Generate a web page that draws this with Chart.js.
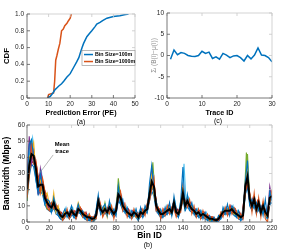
<!DOCTYPE html>
<html><head><meta charset="utf-8">
<script src="https://cdn.jsdelivr.net/npm/chart.js@4"></script>
<style>
html,body{margin:0;padding:0;background:#fff;width:299px;height:250px;overflow:hidden;}
canvas{position:absolute;}
.cap{position:absolute;font-family:'Liberation Sans',Arial,sans-serif;font-size:7px;color:#000;text-align:center;line-height:8px;width:30px;}
</style></head><body>
<canvas id="ca" width="150" height="125" style="left:0;top:0;width:150px;height:125px"></canvas>
<canvas id="cc" width="149" height="125" style="left:150px;top:0;width:149px;height:125px"></canvas>
<canvas id="cb" width="299" height="132" style="left:0;top:118px;width:299px;height:132px"></canvas>
<div class="cap" style="left:66px;top:118px">(a)</div>
<div class="cap" style="left:203px;top:117px">(c)</div>
<div class="cap" style="left:133px;top:241px">(b)</div>
<script>
// ---------- (a) CDF of prediction error ----------
const BLUE_PE  = [9.5, 10.8, 12, 13, 13.8, 14.6, 16, 17, 18.5, 19.3, 20, 21.5, 23, 24, 24.6, 25.5, 26.2, 27.7, 29, 30, 31.5, 32.3, 33.8, 35, 37, 40, 43, 45, 47];
const BLUE_CDF = [0, 0.02, 0.06, 0.1, 0.12, 0.14, 0.17, 0.2, 0.25, 0.27, 0.29, 0.36, 0.43, 0.48, 0.53, 0.6, 0.65, 0.73, 0.77, 0.8, 0.85, 0.88, 0.9, 0.92, 0.95, 0.97, 0.98, 0.99, 1.0];
const ORANGE_PE  = [9.5, 10, 12.3, 12.8, 13.3, 13.8, 14.5, 15.2, 16, 16.8, 17.5, 18.5, 19.2, 20, 20.5];
const ORANGE_CDF = [0, 0.04, 0.06, 0.2, 0.45, 0.5, 0.58, 0.65, 0.8, 0.82, 0.86, 0.89, 0.92, 0.95, 1.0];
const LEGEND_A = ['Bin Size=100m', 'Bin Size=1000m'];

// ---------- (c) per-trace deviation ----------
const TRACE_ID = [1,2,3,4,5,6,7,8,9,10,11,12,13,14,15,16,17,18,19,20,21,22,23,24,25,26,27,28,29,30];
const DEVIATION = [-0.9,1.3,0.2,0.7,0.5,0,-0.15,-0.25,0,1.0,0.5,0.8,-0.7,-0.3,-0.85,0.5,0.1,-0.5,-0.1,0,-0.5,-1.3,0,-0.8,0.1,1.8,0.1,0,-0.5,-1.5];

// ---------- (b) bandwidth traces ----------
const BINS_EVEN = [0,2,4,6,8,10,12,14,16,18,20,22,24,26,28,30,32,34,36,38,40,42,44,46,48,50,52,54,56,58,60,62,64,66,68,70,72,74,76,78,80,82,84,86,88,90,92,94,96,98,100,102,104,106,108,110,112,114,116,118,120,122,124,126,128,130,132,134,136,138,140,142,144,146,148,150,152,154,156,158,160,162,164,166,168,170,172,174,176,178,180,182,184,186,188,190,192,194,196,198,200,202,204,206,208,210,212,214,216,218,220];
const BINS_ODD = [1,3,5,7,9,11,13,15,17,19,21,23,25,27,29,31,33,35,37,39,41,43,45,47,49,51,53,55,57,59,61,63,65,67,69,71,73,75,77,79,81,83,85,87,89,91,93,95,97,99,101,103,105,107,109,111,113,115,117,119,121,123,125,127,129,131,133,135,137,139,141,143,145,147,149,151,153,155,157,159,161,163,165,167,169,171,173,175,177,179,181,183,185,187,189,191,193,195,197,199,201,203,205,207,209,211,213,215,217,219];
const MEAN = [20,35,42,41,33,22,23,23,15,12, 10,9,12,8,7,4,3,5,6,4, 7,5,4,8,7,5,4,3,3,2, 2,4,13,8,6,8,6,9,7,5, 7,17,15,10,8,6,5,4,6,5, 3,6,5,7,8,17,25,22,10,7, 5,5,6,7,8,6,12,6,5,9, 18,10,13,10,8,7,5,6,4,5, 4,3,2,2,1.5,1,2,4,6,7, 7,7,8,6,5,4,3,4,22,28, 14,10,14,8,12,6,10,6,4,15, 16];
// traces sampled on even bins
const E1 = [24,48,51,40,26,18,30,21,11,14, 13,6,15,9,4,2,5,8,3,6, 10,3,6,11,5,7,2,4,1,3, 1,7,17,5,9,11,4,13,5,8, 4,22,11,14,6,9,3,7,4,8, 1,9,3,10,6,24,35,19,13,5, 8,3,9,5,12,4,16,8,3,13, 34,7,17,8,12,5,8,3,7,2, 6,1,4,0.5,3,0,4,2,9,5, 11,4,10,8,3,7,1,6,25,38, 11,14,9,12,7,10,4,14,2,19, 13];
const E2 = [15,29,47,36,38,28,18,27,19,9, 7,12,8,11,5,6,1,3,8,2, 5,7,2,6,9,3,6,1,5,0.5, 3,2,10,11,3,6,8,5,10,2, 9,14,19,7,11,3,7,2,8,3, 5,3,8,4,11,13,20,27,7,9, 2,8,4,10,5,9,8,3,7,6, 15,13,9,14,5,10,3,8,2,7, 2,5,1,3,0.5,2,1,6,3,9, 4,10,5,9,7,2,5,2,19,24, 17,6,18,5,15,3,13,2,0,12, 20];
const E3 = [18,40,43,49,30,25,26,17,16,18, 11,8,18,6,10,3,2,7,4,5, 8,4,5,12,8,4,5,2,3,2, 1,3,15,9,5,9,3,11,9,4, 8,19,13,12,9,5,6,3,5,7, 2,7,6,9,7,20,29,17,11,6, 6,4,7,8,10,5,14,7,4,10, 21,9,15,11,9,6,7,4,5,4, 5,2,3,1,2,1,3,5,7,8, 8,8,9,5,6,5,2,5,24,35, 16,9,15,7,13,5,11,5,3,17, 18];
const E4 = [27,53,36,44,35,17,33,25,13,11, 9,11,9,8,6,5,4,4,7,3, 6,6,3,9,6,6,3,3,2,2, 2,5,12,7,7,7,5,8,6,6, 6,15,16,9,7,7,4,5,7,4, 3,5,4,8,9,15,33,24,8,8, 4,6,5,6,7,7,10,5,6,8, 17,11,12,9,7,8,4,7,3,6, 3,4,2,2,1,1,1,3,5,6, 6,6,7,7,4,5,3,3,21,26, 13,11,13,9,11,7,9,7,5,22, 14];
const E5 = [13,31,45,42,28,20,21,19,14,8, 8,7,10,7,8,3,3,4,5,4, 6,5,4,7,6,4,4,2,2,1, 2,4,14,7,5,12,5,7,6,5, 5,27,14,9,7,5,5,3,5,3, 2,5,4,6,7,16,22,20,9,6, 4,4,5,6,7,5,11,5,4,8, 16,9,12,9,7,6,4,5,3,4, 3,2,1,1,1,0.5,2,3,5,6, 6,6,7,5,4,3,2,3,20,42, 13,9,13,7,11,5,9,5,3,14, 15];
const E6 = [16,30,48,38,36,26,20,26,18,14, 12,11,10,10,8,6,4,6,5,5, 8,6,5,7,8,6,5,4,4,3, 3,5,11,9,7,7,7,8,8,6, 8,15,17,11,9,7,6,5,7,6, 4,7,6,8,7,15,22,25,12,8, 6,6,7,6,9,7,10,7,6,8, 15,12,15,11,9,8,6,7,5,6, 5,4,3,3,2,1.5,3,5,7,6, 8,6,9,7,6,5,4,5,18,24, 16,12,16,10,14,7,12,7,5,17, 18];
const E7 = [26,34,38,36,35,27,30,19,17,13, 11,10,12,9,8,5,4,6,6,5, 8,6,5,9,8,6,5,4,3,3, 2,5,14,9,7,9,7,10,8,6, 8,22,18,11,9,7,6,5,7,6, 4,7,6,8,9,18,28,24,11,8, 6,6,7,8,9,7,13,7,6,10, 22,11,14,11,9,8,6,7,5,6, 5,4,3,3,2,1.5,2,5,7,8, 8,8,9,7,6,5,4,5,24,27, 15,11,15,9,13,7,11,7,5,16, 17];
const E8 = [13,28,36,34,26,17,19,17,11,8, 7,6,9,5,4,2,1,3,4,2, 5,3,2,6,5,3,2,1,1,0.5, 0.5,2,10,6,4,6,4,7,5,3, 5,13,11,7,6,4,3,2,4,3, 1,4,3,5,6,13,19,16,7,5, 3,3,4,5,6,4,9,4,3,7, 14,7,10,7,6,5,3,4,2,3, 2,1,0.5,0.5,0.5,0,0.5,2,4,5, 5,5,6,4,3,2,1,2,17,22, 10,7,10,5,9,4,7,4,2,11, 12];
// traces sampled on odd bins
const O1 = [30,44,52,38,26,24,31,17,12,13, 12,8,13,6,8,2,5,9,3,7, 9,3,8,10,4,6,3,5,1,3, 2,12,9,10,5,9,6,11,4,8, 15,13,16,7,10,4,7,3,8,2, 7,4,8,6,15,18,30,13,11,4, 7,4,10,6,9,7,12,4,9,17, 36,10,15,7,10,4,8,3,7,4, 6,2,3,1,2,1,4,4,9,5, 9,6,10,4,7,3,5,10,28,18, 15,9,14,8,12,6,11,3,13,19];
const O2 = [25,36,46,40,33,19,28,22,17,9, 8,12,9,10,5,6,3,7,6,4, 5,7,5,9,8,4,6,2,3,1, 4,7,13,6,9,5,10,7,8,4, 10,20,11,12,5,8,4,7,5,6, 3,8,5,10,10,25,22,18,6,8, 3,8,5,10,6,11,7,8,5,12, 12,14,10,12,6,8,4,7,3,6, 3,4,1,3,0.5,2,2,6,5,9, 5,10,5,8,4,6,2,16,22,24, 10,15,8,13,7,10,6,7,8,20];
const O3 = [22,50,40,35,24,25,20,16,15,12, 7,9,11,7,4,3,2,5,4,3, 5,4,7,6,5,3,3,2,1,1, 2,10,8,6,5,6,7,6,5,5, 13,13,12,8,6,5,4,4,5,3, 4,5,5,7,11,19,21,14,7,5, 4,5,6,7,6,8,8,5,6,12, 12,10,11,8,7,5,5,4,4,4, 3,2,1,1,0.5,1,2,4,6,6, 6,7,6,5,4,3,2,11,22,19, 10,10,9,8,7,6,6,4,8,13];
const O4 = [33,42,50,39,30,24,26,21,13,12, 10,11,12,9,7,5,5,7,6,6, 7,6,7,9,7,6,5,4,3,3, 4,8,14,8,8,8,9,9,7,7, 14,18,14,10,8,7,6,6,7,5, 6,7,7,9,14,23,26,18,9,7, 6,7,8,9,8,10,10,7,8,15, 16,13,14,10,9,7,7,6,6,6, 5,4,3,3,2,2,4,6,8,8, 8,9,8,7,6,5,4,14,27,23, 13,13,12,11,10,9,9,6,11,17];
const O5 = [27,38,44,36,31,21,25,18,14,10, 9,9,8,9,6,3,4,5,6,5, 6,5,5,8,6,5,4,3,2,2, 3,9,10,7,6,7,8,8,6,6, 11,17,12,9,7,6,5,5,6,4, 5,6,6,8,12,22,37,16,8,6, 5,6,7,8,7,9,9,6,7,13, 14,12,12,9,8,6,6,5,5,5, 4,3,2,2,1,1.5,3,5,7,7, 7,8,7,6,5,4,3,12,43,21, 12,12,11,10,9,8,8,5,10,16];

const EVEN_TRACES = [E1,E2,E3,E4,E5,E6,E7,E8];
const EVEN_COLORS = ['#0072BD','#D95319','#EDB120','#7E2F8E','#77AC30','#D95319','#A2142F','#0072BD'];
const ODD_TRACES = [O1,O2,O3,O4,O5];
const ODD_COLORS = ['#4DBEEE','#A2142F','#0072BD','#D95319','#77AC30'];

const FONT = "'Liberation Sans',Arial,sans-serif";
const TICK_FONT = {family: FONT, size: 6.5};

const boxPlugin = {
  id: 'boxTicks',
  afterDraw(chart) {
    const {ctx, chartArea: a, scales} = chart;
    ctx.save();
    const tl = 3;
    ctx.lineWidth = 0.8;
    ctx.strokeStyle = '#c8c8c8';
    ctx.beginPath();
    ctx.moveTo(a.left, a.top); ctx.lineTo(a.right, a.top); ctx.lineTo(a.right, a.bottom);
    scales.x.ticks.forEach(t => { const p = scales.x.getPixelForValue(t.value); ctx.moveTo(p, a.top); ctx.lineTo(p, a.top + tl); });
    scales.y.ticks.forEach(t => { const p = scales.y.getPixelForValue(t.value); ctx.moveTo(a.right, p); ctx.lineTo(a.right - tl, p); });
    ctx.stroke();
    ctx.strokeStyle = '#555';
    ctx.beginPath();
    ctx.moveTo(a.left, a.top); ctx.lineTo(a.left, a.bottom); ctx.lineTo(a.right, a.bottom);
    scales.x.ticks.forEach(t => { const p = scales.x.getPixelForValue(t.value); ctx.moveTo(p, a.bottom); ctx.lineTo(p, a.bottom - tl); });
    scales.y.ticks.forEach(t => { const p = scales.y.getPixelForValue(t.value); ctx.moveTo(a.left, p); ctx.lineTo(a.left + tl, p); });
    ctx.stroke();
    ctx.restore();
  }
};

function scaleCfg(min, max, step, title, fitSize, horiz, titleSize) {
  return {
    type: 'linear', min: min, max: max,
    ticks: {stepSize: step, font: TICK_FONT, color: '#262626', padding: horiz ? 2 : 3, maxRotation: 0, autoSkip: false},
    grid: {display: false, drawTicks: false},
    border: {display: false},
    title: {display: true, text: title, color: '#000', font: {family: FONT, size: titleSize || 7.2, weight: 'bold'}, padding: 0},
    afterFit(s) { if (horiz) s.height = fitSize; else s.width = fitSize; }
  };
}

// (a)
const legendPlugin = {
  id: 'legA',
  afterDraw(chart) {
    const {ctx, chartArea: a} = chart;
    const w = 53, h = 15;
    const x0 = a.right - w, y0 = a.top + (a.bottom - a.top) * 0.435;
    ctx.save();
    ctx.fillStyle = '#fff';
    ctx.fillRect(x0, y0, w, h);
    ctx.strokeStyle = '#9a9a9a'; ctx.lineWidth = 0.7;
    ctx.strokeRect(x0, y0, w, h);
    const cols = ['#0072BD', '#D95319'];
    ctx.font = "bold 5.3px " + FONT;
    ctx.textBaseline = 'middle';
    LEGEND_A.forEach((t, i) => {
      const y = y0 + 4 + i * 7;
      ctx.strokeStyle = cols[i]; ctx.lineWidth = 1.5;
      ctx.beginPath(); ctx.moveTo(x0 + 2, y); ctx.lineTo(x0 + 11, y); ctx.stroke();
      ctx.fillStyle = '#000';
      ctx.fillText(t, x0 + 13, y);
    });
    ctx.restore();
  }
};

new Chart(document.getElementById('ca'), {
  type: 'line',
  data: {
    datasets: [
      {label: LEGEND_A[0], data: BLUE_PE.map((x, i) => ({x: x, y: BLUE_CDF[i]})), borderColor: '#0072BD', borderWidth: 1.5, pointRadius: 0, tension: 0},
      {label: LEGEND_A[1], data: ORANGE_PE.map((x, i) => ({x: x, y: ORANGE_CDF[i]})), borderColor: '#D95319', borderWidth: 1.5, pointRadius: 0, tension: 0}
    ]
  },
  options: {
    responsive: false, animation: false,
    layout: {padding: {left: 2, right: 15, top: 14, bottom: 8}},
    plugins: {legend: {display: false}, tooltip: {enabled: false}},
    scales: {
      x: scaleCfg(0, 50, 10, 'Prediction Error (PE)', 19, true),
      y: scaleCfg(0, 1, 0.2, 'CDF', 25, false, 7.8)
    }
  },
  plugins: [boxPlugin, legendPlugin]
});

// (c)
const cfgC = scaleCfg(-10, 10, 5, 'Σᵢ (B(i)−μ(i))', 17, false);
cfgC.title.color = '#8c8c8c';
cfgC.title.font = {family: FONT, size: 6.5, weight: 'normal'};
new Chart(document.getElementById('cc'), {
  type: 'line',
  data: {
    datasets: [
      {data: TRACE_ID.map((x, i) => ({x: x, y: DEVIATION[i]})), borderColor: '#0072BD', borderWidth: 1.5, pointRadius: 0, tension: 0}
    ]
  },
  options: {
    responsive: false, animation: false,
    layout: {padding: {left: 0, right: 27, top: 13, bottom: 8}},
    plugins: {legend: {display: false}, tooltip: {enabled: false}},
    scales: {
      x: scaleCfg(0, 30, 10, 'Trace ID', 19, true),
      y: cfgC
    }
  },
  plugins: [boxPlugin]
});

// (b)
const annPlugin = {
  id: 'meanAnn',
  afterDraw(chart) {
    const {ctx, scales: {x, y}} = chart;
    ctx.save();
    ctx.strokeStyle = '#8a8a8a'; ctx.lineWidth = 0.6;
    ctx.beginPath();
    ctx.moveTo(x.getPixelForValue(23.5), y.getPixelForValue(41.5));
    ctx.lineTo(x.getPixelForValue(10.5), y.getPixelForValue(29.5));
    ctx.stroke();
    ctx.fillStyle = '#000';
    ctx.font = "bold 5.8px " + FONT;
    ctx.textAlign = 'center'; ctx.textBaseline = 'middle';
    ctx.fillText('Mean', x.getPixelForValue(31.5), y.getPixelForValue(47.8));
    ctx.fillText('trace', x.getPixelForValue(31.5), y.getPixelForValue(43.8));
    ctx.restore();
  }
};

const dsB = [{data: BINS_EVEN.map((b, i) => ({x: b, y: MEAN[i]})), borderColor: '#000', borderWidth: 2, pointRadius: 0, tension: 0}];
EVEN_TRACES.forEach((t, k) => dsB.push({data: BINS_EVEN.map((b, i) => ({x: b, y: t[i]})), borderColor: EVEN_COLORS[k], borderWidth: 1.1, pointRadius: 0, tension: 0}));
ODD_TRACES.forEach((t, k) => dsB.push({data: BINS_ODD.map((b, i) => ({x: b, y: t[i]})), borderColor: ODD_COLORS[k], borderWidth: 1.1, pointRadius: 0, tension: 0}));

const xB = scaleCfg(0, 220, 20, 'Bin ID', 19, true, 8.5);
const yB = scaleCfg(0, 60, 10, 'Bandwidth (Mbps)', 25, false, 8.5);
yB.ticks.padding = 2;
new Chart(document.getElementById('cb'), {
  type: 'line',
  data: {datasets: dsB},
  options: {
    responsive: false, animation: false,
    layout: {padding: {left: 2, right: 27, top: 7, bottom: 9}},
    plugins: {legend: {display: false}, tooltip: {enabled: false}},
    scales: {x: xB, y: yB}
  },
  plugins: [boxPlugin, annPlugin]
});
</script>
</body></html>
